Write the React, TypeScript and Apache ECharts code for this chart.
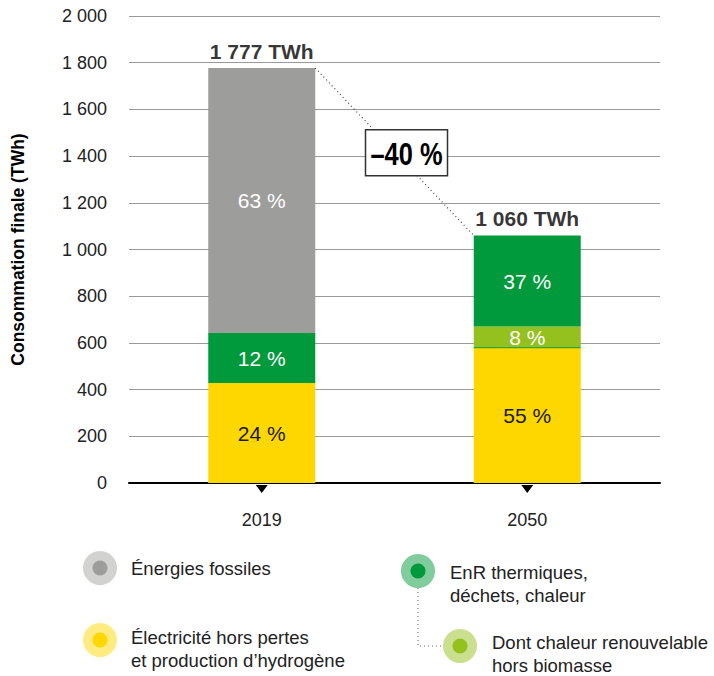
import React, { useEffect, useRef } from "react";
import * as echarts from "echarts";

const categories = ["2019", "2050"];
const electricite = [428, 580];
const chaleurRenouvelable = [null, 90];
const enrThermiques = [214, 390];
const fossiles = [1135, null];
const totals = [1777, 1060];
const totalLabels = ["1 777 TWh", "1 060 TWh"];
const electricitePct = ["24 %", "55 %"];
const chaleurPct = ["", "8 %"];
const enrPct = ["12 %", "37 %"];
const fossilesPct = ["63 %", ""];
const variationLabel = "–40 %";
const yTickLabels = ["0", "200", "400", "600", "800", "1 000", "1 200", "1 400", "1 600", "1 800", "2 000"];
const yAxisTitle = "Consommation finale (TWh)";

const FONT = "'Liberation Sans', Arial, Helvetica, sans-serif";
const BAR_W = 107;

const C_GRAY = "#9d9d9c";
const C_DGREEN = "#009a3c";
const C_LGREEN = "#95c11f";
const C_YELLOW = "#ffd700";

export default function App() {
  const ref = useRef<HTMLDivElement>(null);
  useEffect(() => {
    if (!ref.current) return;
    const chart = echarts.init(ref.current, undefined, { renderer: "svg" });
    const pctLabel = (arr: string[], color: string) => ({
      show: true,
      position: "inside",
      color,
      fontSize: 21,
      fontFamily: FONT,
      formatter: (p: any) => arr[p.dataIndex] || "",
    });
    chart.setOption({
      animation: false,
      grid: { left: 129, right: 54, top: 16, bottom: 193 },
      xAxis: {
        type: "category",
        data: categories,
        axisLine: { show: true, lineStyle: { color: "#000", width: 2 } },
        axisTick: { show: false },
        axisLabel: { color: "#222", fontSize: 18, fontFamily: FONT, margin: 28 },
      },
      yAxis: {
        type: "value",
        min: 0,
        max: 2000,
        interval: 200,
        name: yAxisTitle,
        nameLocation: "middle",
        nameGap: 102,
        nameRotate: 90,
        nameTextStyle: { fontSize: 17.5, fontWeight: "bold", fontFamily: FONT, color: "#000" },
        axisLine: { show: false },
        axisTick: { show: false },
        axisLabel: {
          color: "#222",
          fontSize: 18,
          fontFamily: FONT,
          margin: 22,
          formatter: (v: number) => yTickLabels[Math.round(v / 200)] ?? String(v),
        },
        splitLine: { lineStyle: { color: "#9a9a9a", width: 1 } },
      },
      series: [
        {
          name: "Électricité",
          type: "bar",
          stack: "t",
          barWidth: BAR_W,
          data: electricite,
          itemStyle: { color: C_YELLOW },
          label: pctLabel(electricitePct, "#1a1a1a"),
        },
        {
          name: "Chaleur renouvelable",
          type: "bar",
          stack: "t",
          barWidth: BAR_W,
          data: chaleurRenouvelable,
          itemStyle: { color: C_LGREEN },
          label: pctLabel(chaleurPct, "#fff"),
        },
        {
          name: "EnR",
          type: "bar",
          stack: "t",
          barWidth: BAR_W,
          data: enrThermiques,
          itemStyle: { color: C_DGREEN },
          label: pctLabel(enrPct, "#fff"),
        },
        {
          name: "Fossiles",
          type: "bar",
          stack: "t",
          barWidth: BAR_W,
          data: fossiles,
          itemStyle: { color: C_GRAY },
          label: pctLabel(fossilesPct, "#fff"),
        },
        {
          name: "Total",
          type: "scatter",
          data: totals,
          symbolSize: 1,
          itemStyle: { color: "rgba(0,0,0,0)" },
          label: {
            show: true,
            position: "top",
            distance: 6,
            color: "#000",
            fontSize: 21,
            fontWeight: "bold",
            fontFamily: FONT,
            formatter: (p: any) => totalLabels[p.dataIndex],
          },
          z: 5,
        },
      ],
    });

    const p0 = chart.convertToPixel({ gridIndex: 0 }, [0, totals[0]]) as number[];
    const p1 = chart.convertToPixel({ gridIndex: 0 }, [1, totals[1]]) as number[];
    const z0 = chart.convertToPixel({ gridIndex: 0 }, [0, 0]) as number[];
    const z1 = chart.convertToPixel({ gridIndex: 0 }, [1, 0]) as number[];
    const split = chart.convertToPixel({ gridIndex: 0 }, [1, electricite[1]]) as number[];
    const x0 = p0[0] + BAR_W / 2;
    const x1 = p1[0] - BAR_W / 2;
    const mx = (x0 + x1) / 2 + 12;
    const my = (p0[1] + p1[1]) / 2 + 1;
    const tri = (cx: number, y: number) => ({
      type: "polygon",
      shape: { points: [[cx - 6, y + 2], [cx + 6, y + 2], [cx, y + 10]] },
      style: { fill: "#000" },
      z: 10,
    });
    const dot = (cx: number, cy: number, outer: string, inner: string) => ({
      type: "group",
      children: [
        { type: "circle", shape: { cx, cy, r: 17 }, style: { fill: outer } },
        { type: "circle", shape: { cx, cy, r: 7.5 }, style: { fill: inner } },
      ],
    });
    const txt = (x: number, y: number, text: string) => ({
      type: "text",
      x,
      y,
      style: { text, fill: "#222", fontSize: 18.5, fontFamily: FONT, lineHeight: 23, verticalAlign: "middle" },
    });
    chart.setOption({
      graphic: [
        {
          type: "line",
          shape: { x1: split[0] - BAR_W / 2, y1: split[1], x2: split[0] + BAR_W / 2, y2: split[1] },
          style: { stroke: "#2ea836", lineWidth: 1.2 },
          z: 10,
        },
        {
          type: "line",
          shape: { x1: x0, y1: p0[1], x2: x1, y2: p1[1] },
          style: { stroke: "#444", lineWidth: 1.2, lineDash: [1, 3] },
          z: 10,
        },
        {
          type: "rect",
          shape: { x: mx - 41, y: my - 23, width: 82, height: 46 },
          style: { fill: "#fff", stroke: "#333", lineWidth: 1.5 },
          z: 11,
        },
        {
          type: "text",
          x: mx,
          y: my + 1,
          scaleX: 0.82,
          style: {
            text: variationLabel,
            fill: "#000",
            fontSize: 31,
            fontWeight: "bold",
            fontFamily: FONT,
            align: "center",
            verticalAlign: "middle",
          },
          z: 12,
        },
        tri(z0[0], z0[1]),
        tri(z1[0], z1[1]),
        {
          type: "polyline",
          shape: { points: [[418, 588], [418, 646], [446, 646]] },
          style: { stroke: "#666", lineWidth: 1, lineDash: [1, 3], fill: null },
        },
        dot(100, 568, "#d2d2d1", C_GRAY),
        dot(100, 640, "#ffeb80", C_YELLOW),
        dot(418, 571, "#80cc9d", C_DGREEN),
        dot(460, 646, "#cae08f", C_LGREEN),
        txt(131, 568, "Énergies fossiles"),
        txt(131, 649, "Électricité hors pertes\net production d’hydrogène"),
        txt(450, 584, "EnR thermiques,\ndéchets, chaleur"),
        txt(492, 654, "Dont chaleur renouvelable\nhors biomasse"),
      ],
    });
    return () => chart.dispose();
  }, []);
  return (
    <div
      ref={ref}
      style={{ position: "absolute", left: 0, top: 0, width: 714, height: 676, background: "#fff" }}
    />
  );
}
